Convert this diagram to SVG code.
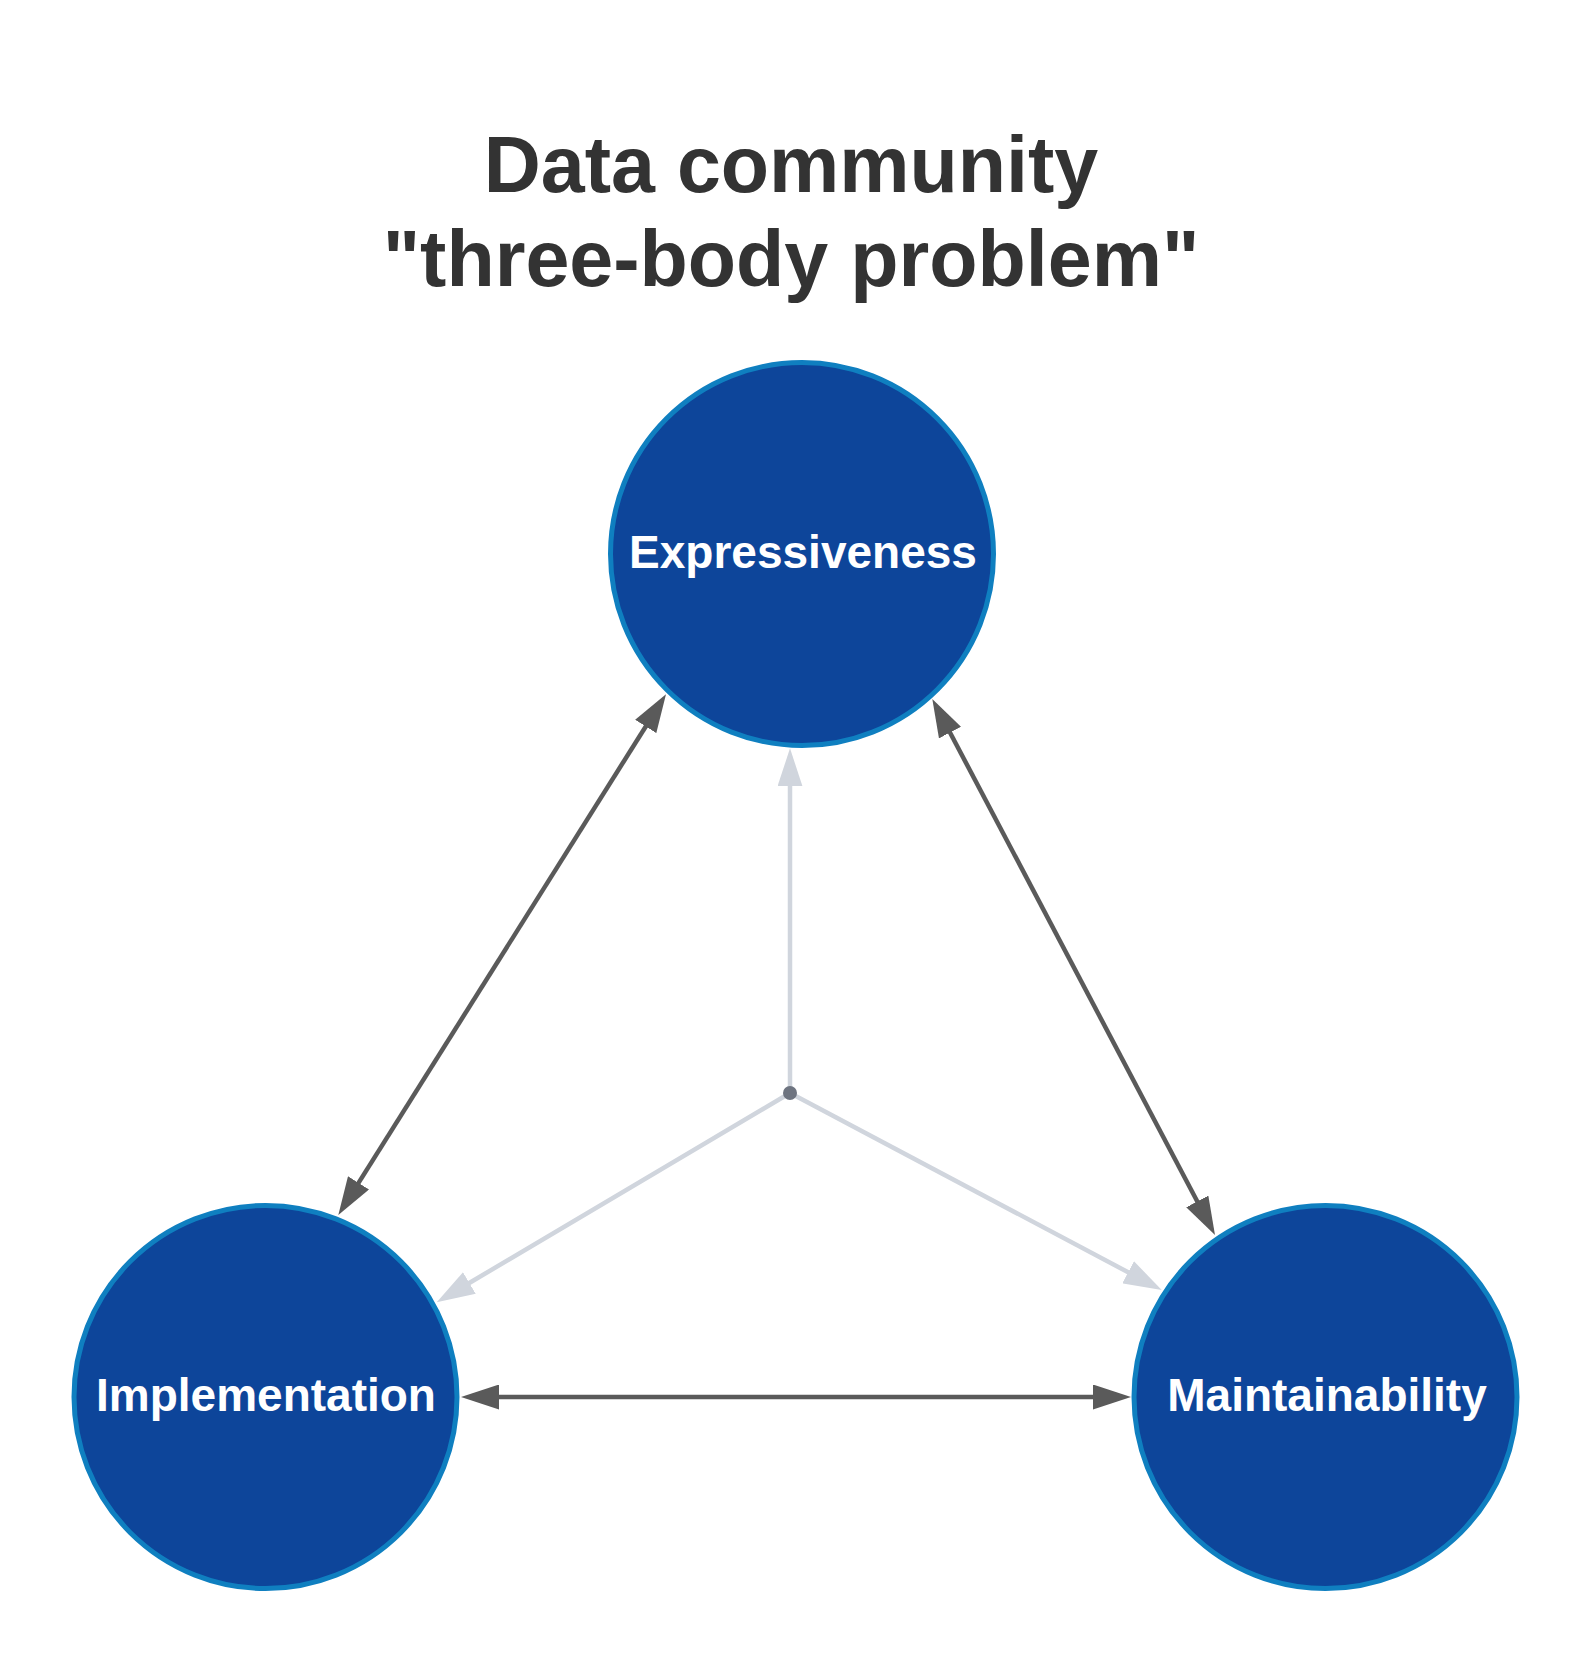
<svg xmlns="http://www.w3.org/2000/svg" width="1594" height="1665" viewBox="0 0 1594 1665">
  <style>
    .title { font-family: "Liberation Sans", Arial, sans-serif; font-weight: bold; font-size: 79px; fill: #333333; text-anchor: middle; }
    .node circle { fill: #0d459a; stroke: #0f7fc0; stroke-width: 5; }
    .node text { font-family: "Liberation Sans", Arial, sans-serif; font-weight: bold; font-size: 46px; fill: #ffffff; text-anchor: middle; }
    .dark { stroke: #5a5a5a; stroke-width: 4.5; fill: none; }
    .light { stroke: #d0d5dd; stroke-width: 4.5; fill: none; }
  </style>
  <defs>
    <marker id="arrDark" markerUnits="userSpaceOnUse" markerWidth="38" markerHeight="25" refX="8" refY="12.5" orient="auto-start-reverse" viewBox="0 0 38 25">
      <path d="M0,0 L38,12.5 L0,25 z" fill="#5a5a5a"/>
    </marker>
    <marker id="arrLight" markerUnits="userSpaceOnUse" markerWidth="38" markerHeight="25" refX="8" refY="12.5" orient="auto" viewBox="0 0 38 25">
      <path d="M0,0 L38,12.5 L0,25 z" fill="#d0d5dd"/>
    </marker>
  </defs>
  <rect width="1594" height="1665" fill="#ffffff"/>
  <g id="title">
    <text class="title" x="791" y="192">Data community</text>
    <text class="title" x="791" y="286">"three-body problem"</text>
  </g>
  <g id="node-expressiveness" class="node">
    <circle cx="802" cy="554" r="191.5"/>
    <text x="803" y="568">Expressiveness</text>
  </g>
  <g id="node-implementation" class="node">
    <circle cx="265.5" cy="1397" r="191.5"/>
    <text x="266" y="1411">Implementation</text>
  </g>
  <g id="node-maintainability" class="node">
    <circle cx="1325.5" cy="1397" r="191.5"/>
    <text x="1327" y="1411">Maintainability</text>
  </g>
  <g id="connectors">
    <path class="dark" d="M491,1397 L1101,1397" marker-start="url(#arrDark)" marker-end="url(#arrDark)"/>
    <path class="dark" d="M354.3,1189.6 L650,719.7" marker-start="url(#arrDark)" marker-end="url(#arrDark)"/>
    <path class="dark" d="M946.3,725.5 L1201,1208.5" marker-start="url(#arrDark)" marker-end="url(#arrDark)"/>
    <path class="light" d="M790,1093 L790,778.3" marker-end="url(#arrLight)"/>
    <path class="light" d="M790,1093 L462.5,1287" marker-end="url(#arrLight)"/>
    <path class="light" d="M790,1093 L1135.2,1276" marker-end="url(#arrLight)"/>
    <circle id="hub" cx="790" cy="1093" r="7" fill="#6e7480"/>
  </g>
</svg>
